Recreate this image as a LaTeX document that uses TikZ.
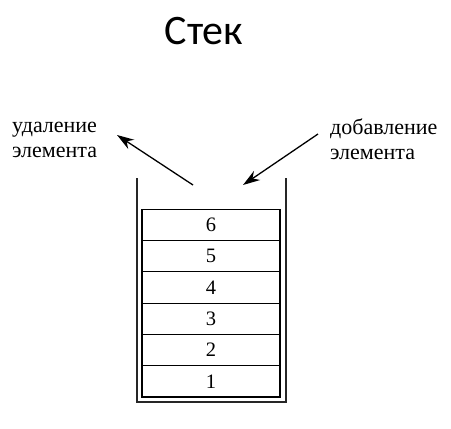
\documentclass[tikz,border=0pt]{standalone}
\usepackage{fontspec}
\setmainfont{Liberation Serif}
\newfontfamily\titlefont{Carlito}
\usetikzlibrary{arrows.meta}
\begin{document}
\begin{tikzpicture}[x=1pt,y=-1pt,
  cell/.style={draw,line width=1.1pt,minimum width=138pt,minimum height=31.3pt,inner sep=0pt,font=\fontsize{20.5}{22}\selectfont},
  lbl/.style={align=left,anchor=west,inner sep=0pt,font=\fontsize{22}{25}\selectfont},
  wall/.style={line width=2pt,draw=black!85},
  arr/.style={line width=1.3pt,-{Stealth[length=17pt,width=11pt]}}]
\useasboundingbox (0,0) rectangle (451,429);
\node[font=\titlefont\fontsize{42}{46}\selectfont] (title) at (204,31) {Стек};
\draw[wall] (136.5,178) -- (136.5,402) -- (286,402) -- (286,178);
\foreach \i/\y in {1/381.3,2/350,3/318.7,4/287.4,5/256.1,6/224.8}{
  \node[cell] (c\i) at (211,\y) {\i};
}
\node[lbl] (del) at (12,139.5) {удаление\\элемента};
\node[lbl] (add) at (330,139.5) {добавление\\элемента};
\coordinate (dt) at (193,185);
\coordinate (dh) at (117,135);
\coordinate (at) at (318,134);
\coordinate (ah) at (243,185);
\draw[arr] (dt) -- (dh);
\draw[arr] (at) -- (ah);
\end{tikzpicture}
\end{document}
